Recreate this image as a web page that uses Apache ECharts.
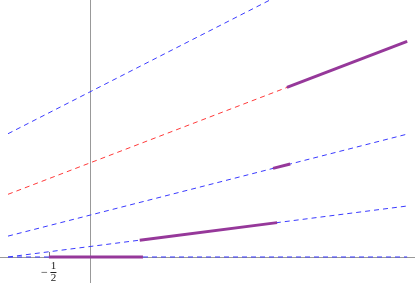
<!DOCTYPE html>
<html>
<head>
<meta charset="utf-8">
<script src="https://cdn.jsdelivr.net/npm/echarts@6/dist/echarts.min.js"></script>
<style>
html,body{margin:0;padding:0;background:#fff;}
#chart{width:415px;height:283px;}
</style>
</head>
<body>
<div id="chart"></div>
<script>
// x extent of the dashed lines and their end values
const lineX = [-1, 3.88];
const line0 = [0, 0];
const line1 = [0, 4.88];
const line2 = [2, 11.76];
const line3 = [6, 20.64];
const line4 = [11.8, 31.3];
// thick purple pieces [x, y]
const segA = [[-0.5, 0], [0.65, 0]];
const segB = [[0.61, 1.61], [2.29, 3.29]];
const segC = [[2.24, 8.48], [2.45, 8.9]];
const segD = [[2.41, 16.23], [3.88, 20.64]];
// tick values
const xTicks = [-0.5];

const blue = '#3a3aff';
const red = '#ff3a3a';
const purple = '#96389a';

function dashed(vals, color) {
  return {
    type: 'line',
    data: lineX.map((x, i) => [x, vals[i]]),
    showSymbol: false,
    symbol: 'none',
    lineStyle: { color: color, width: 1, type: [5, 4] },
    z: 2
  };
}
function thick(seg) {
  return {
    type: 'line',
    data: seg,
    showSymbol: false,
    symbol: 'none',
    lineStyle: { color: purple, width: 3, cap: 'butt' },
    z: 3
  };
}

const chart = echarts.init(document.getElementById('chart'));
chart.setOption({
  animation: false,
  grid: { left: 0, right: 0, top: 0, bottom: 0, containLabel: false, outerBoundsMode: 'none' },
  xAxis: {
    type: 'value',
    min: -1.098,
    max: 3.976,
    splitLine: { show: false },
    axisLine: { onZero: true, lineStyle: { color: '#999', width: 1 } },
    axisTick: { show: true, inside: true, length: 5, customValues: xTicks, lineStyle: { color: '#777' } },
    axisLabel: {
      show: true,
      customValues: xTicks,
      margin: -21,
      formatter: function () {
        return '{w|}{n|1}\n{m|\u2212}{bar|}\n{w|}{d|2}';
      },
      rich: {
        w: { width: 9, lineHeight: 9 },
        n: { width: 7, align: 'center', fontFamily: 'Liberation Serif', fontSize: 11, color: '#222', lineHeight: 9 },
        m: { width: 9, align: 'left', fontFamily: 'Liberation Serif', fontSize: 12, color: '#222', lineHeight: 3 },
        bar: { width: 6, height: 1, backgroundColor: '#222', lineHeight: 3 },
        d: { width: 7, align: 'center', fontFamily: 'Liberation Serif', fontSize: 11, color: '#222', lineHeight: 9 }
      }
    }
  },
  yAxis: {
    type: 'value',
    min: -2.49,
    max: 24.6,
    splitLine: { show: false },
    axisLine: { onZero: true, lineStyle: { color: '#999', width: 1 } },
    axisTick: { show: false },
    axisLabel: { show: false }
  },
  series: [
    dashed(line0, blue),
    dashed(line1, blue),
    dashed(line2, blue),
    dashed(line3, red),
    dashed(line4, blue),
    thick(segA),
    thick(segB),
    thick(segC),
    thick(segD)
  ]
});
</script>
</body>
</html>
